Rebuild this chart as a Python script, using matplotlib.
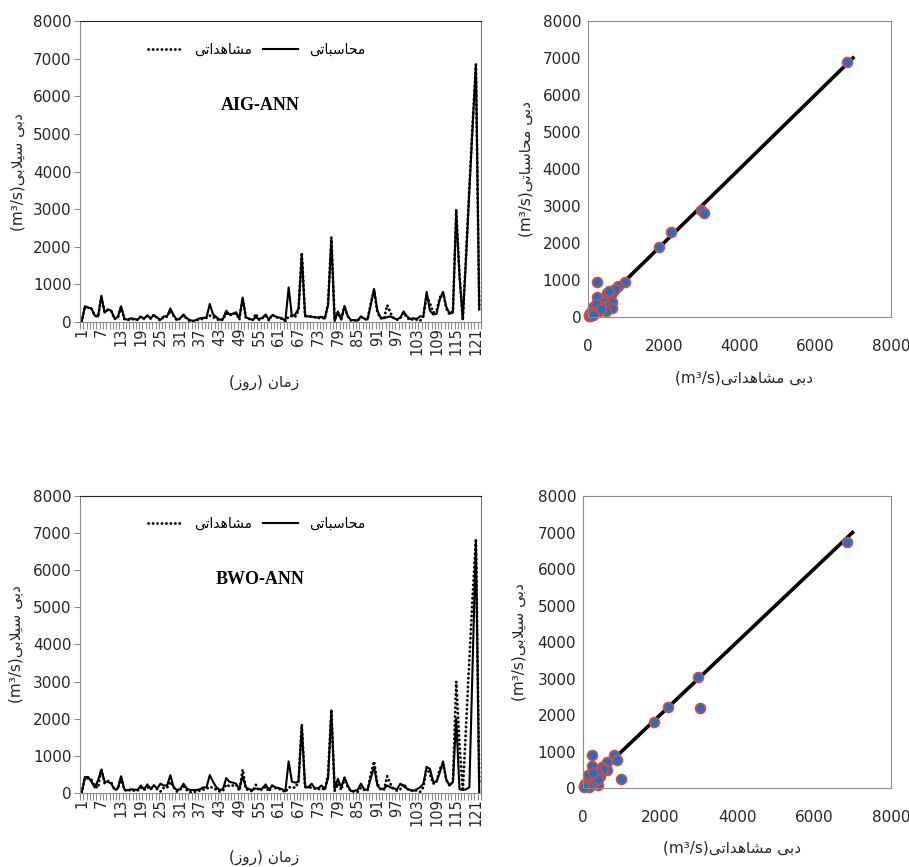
import numpy as np
import matplotlib
matplotlib.use('Agg')
import matplotlib.pyplot as plt

plt.rcParams['font.family'] = ['DejaVu Sans']

# روزها
days = np.arange(1, 123)

# دبی مشاهداتی (m3/s)
observed = [
    0, 400, 390, 350, 170, 140, 650, 260, 320, 290,
    80, 110, 400, 80, 50, 90, 60, 60, 150, 80,
    160, 90, 200, 100, 40, 140, 140, 300, 160, 40,
    90, 180, 80, 20, 20, 50, 60, 90, 110, 170,
    130, 90, 40, 60, 230, 180, 200, 230, 60, 630,
    100, 80, 40, 220, 60, 100, 170, 40, 200, 130,
    110, 80, 20, 150, 160, 140, 300, 1850, 180, 140,
    150, 120, 100, 130, 80, 500, 2250, 60, 250, 80,
    400, 150, 40, 40, 30, 140, 80, 60, 500, 850,
    250, 100, 80, 450, 240, 100, 60, 100, 250, 120,
    50, 80, 60, 30, 150, 700, 500, 250, 300, 650,
    780, 350, 200, 300, 3000, 1300, 50, 1800, 3600, 5300,
    6850, 300,
]

# دبی محاسباتی AIG-ANN
calc_aig = [
    0, 420, 380, 360, 170, 150, 700, 250, 340, 300,
    100, 130, 420, 90, 60, 100, 80, 60, 140, 90,
    180, 100, 180, 120, 60, 150, 150, 360, 180, 60,
    100, 200, 100, 50, 30, 60, 100, 110, 120, 480,
    200, 130, 60, 80, 300, 200, 220, 260, 100, 650,
    120, 90, 60, 120, 80, 110, 200, 60, 180, 150,
    120, 100, 30, 920, 150, 200, 350, 1800, 150, 150,
    140, 130, 120, 140, 90, 450, 2200, 20, 280, 60,
    430, 150, 50, 50, 40, 150, 90, 70, 450, 880,
    300, 120, 100, 130, 150, 100, 70, 120, 280, 150,
    80, 100, 80, 150, 150, 800, 300, 200, 220, 600,
    800, 400, 220, 250, 2900, 1200, 80, 1700, 3500, 5200,
    6850, 400,
]

# دبی محاسباتی BWO-ANN
calc_bwo = [
    0, 430, 430, 300, 150, 340, 620, 300, 300, 250,
    100, 120, 450, 100, 70, 100, 90, 80, 200, 100,
    230, 110, 200, 120, 250, 200, 200, 480, 150, 80,
    100, 250, 120, 80, 80, 80, 100, 150, 150, 480,
    300, 150, 80, 100, 400, 300, 280, 250, 100, 450,
    150, 100, 80, 120, 100, 120, 230, 80, 200, 150,
    130, 100, 50, 850, 300, 280, 300, 1800, 150, 150,
    250, 120, 130, 200, 100, 400, 2200, 100, 380, 150,
    420, 200, 50, 60, 80, 250, 100, 80, 400, 700,
    200, 100, 120, 200, 150, 120, 100, 250, 180, 120,
    80, 60, 100, 150, 250, 700, 650, 300, 300, 550,
    850, 350, 200, 300, 2000, 100, 80, 100, 150, 3500,
    6800, 0,
]

# نقاط پراکنش
obs_sc_aig = [6830, 2995, 3060, 2200, 1875, 985, 790, 240, 510, 640, 240, 400, 620, 510,
              640, 310, 470, 115, 700, 560, 300, 200, 150, 100, 60, 30, 80, 180, 250, 350,
              120, 40, 20, 90, 160, 220, 280, 330, 60, 130]
calc_sc_aig = [6880, 2900, 2810, 2290, 1885, 950, 840, 950, 650, 650, 540, 410, 410, 290,
               250, 180, 160, 90, 750, 700, 300, 250, 200, 150, 100, 50, 60, 120, 200, 300,
               260, 80, 30, 140, 100, 350, 150, 220, 30, 60]
obs_sc_bwo = [6845, 2990, 3050, 2210, 1845, 990, 800, 870, 240, 610, 610, 480, 390, 300,
              90, 220, 430, 520, 350, 150, 100, 60, 30, 180, 250, 120, 40, 80, 200, 300,
              160, 20, 400, 270]
calc_sc_bwo = [6745, 3035, 2185, 2230, 1820, 245, 900, 770, 900, 700, 500, 575, 90, 320,
               120, 590, 320, 530, 450, 250, 150, 100, 50, 180, 280, 350, 120, 60, 100, 200,
               40, 20, 250, 400]
line_xy = [0, 7000]

# شکل‌دهی حروف فارسی (بدون کتابخانه)
FORMS = {
    'ا': ('\uFE8D', '\uFE8E', None, None),
    'ب': ('\uFE8F', '\uFE90', '\uFE91', '\uFE92'),
    'ت': ('\uFE95', '\uFE96', '\uFE97', '\uFE98'),
    'ح': ('\uFEA1', '\uFEA2', '\uFEA3', '\uFEA4'),
    'د': ('\uFEA9', '\uFEAA', None, None),
    'ر': ('\uFEAD', '\uFEAE', None, None),
    'ز': ('\uFEAF', '\uFEB0', None, None),
    'س': ('\uFEB1', '\uFEB2', '\uFEB3', '\uFEB4'),
    'ش': ('\uFEB5', '\uFEB6', '\uFEB7', '\uFEB8'),
    'ل': ('\uFEDD', '\uFEDE', '\uFEDF', '\uFEE0'),
    'م': ('\uFEE1', '\uFEE2', '\uFEE3', '\uFEE4'),
    'ن': ('\uFEE5', '\uFEE6', '\uFEE7', '\uFEE8'),
    'ه': ('\uFEE9', '\uFEEA', '\uFEEB', '\uFEEC'),
    'و': ('\uFEED', '\uFEEE', None, None),
    'ی': ('\uFEEF', '\uFEF0', '\uFEF3', '\uFEF4'),
    'لا': ('\uFEFB', '\uFEFC', None, None),
}


def shape_word(word):
    toks = []
    i = 0
    while i < len(word):
        if word[i] == 'ل' and i + 1 < len(word) and word[i + 1] == 'ا':
            toks.append('لا')
            i += 2
        else:
            toks.append(word[i])
            i += 1
    out = []
    for k, t in enumerate(toks):
        f = FORMS[t]
        prev = k > 0 and FORMS[toks[k - 1]][2] is not None
        nxt = k < len(toks) - 1 and f[2] is not None
        if prev and nxt:
            out.append(f[3])
        elif nxt:
            out.append(f[2])
        elif prev:
            out.append(f[1])
        else:
            out.append(f[0])
    return ''.join(out[::-1])


def rtl(text):
    return ' '.join(shape_word(w) for w in text.split()[::-1])


obs_lbl = rtl('مشاهداتی')
calc_lbl = rtl('محاسباتی')
unit = '(m³/s)'
ylab_ts = unit + rtl('دبی سیلابی')
xlab_ts = '(' + rtl('روز') + ') ' + rtl('زمان')
ylab_sc1 = unit + rtl('دبی محاسباتی')
ylab_sc2 = unit + rtl('دبی سیلابی')
xlab_sc = unit + rtl('دبی مشاهداتی')

TXT = '#262626'
GRID = '#8c8c8c'

fig = plt.figure(figsize=(9.09, 8.67), dpi=100)


def time_panel(rect, calc, title):
    ax = fig.add_axes(rect)
    h_calc, = ax.plot(days, calc, color='black', lw=1.5)
    h_obs, = ax.plot(days, observed, color='black', lw=2.0,
                     linestyle=(0, (0.1, 1.5)), dash_capstyle='round')
    ax.set_xlim(0.5, len(days) + 0.5)
    ax.set_ylim(0, 8000)
    ax.set_yticks(np.arange(0, 8001, 1000))
    ax.set_xticks(days[::6])
    ax.set_xticklabels([str(d) for d in days[::6]], rotation=90)
    ax.set_xticks(np.arange(0.5, len(days) + 1), minor=True)
    ax.tick_params(axis='x', which='major', length=0, pad=4, labelsize=10.5, colors=TXT)
    ax.tick_params(axis='x', which='minor', length=5, color=GRID, width=0.8)
    ax.tick_params(axis='y', length=4, color=GRID, labelsize=11, colors=TXT, pad=2)
    for s in ['left', 'bottom']:
        ax.spines[s].set_color(GRID)
    ax.spines['top'].set_color('#222222')
    ax.spines['right'].set_color('#777777')
    ax.legend(handles=[h_obs, h_calc], labels=[obs_lbl, calc_lbl], ncol=2,
              loc='center', bbox_to_anchor=(0.44, 0.905), frameon=False,
              fontsize=10, handlelength=2.5, columnspacing=0.8, handletextpad=0.8)
    ax.text(0.449, 0.72, title, transform=ax.transAxes, ha='center', va='center',
            family='Liberation Serif', fontweight='bold', fontsize=13)
    ax.set_ylabel(ylab_ts, fontsize=11, color=TXT)
    ax.yaxis.set_label_coords(-0.135, 0.5)
    ax.set_xlabel(xlab_ts, fontsize=11, color=TXT)
    return ax


def scatter_panel(rect, xs, ys, ylab, xlab_y, xlab_x):
    ax = fig.add_axes(rect)
    ax.plot(line_xy, line_xy, color='black', lw=2.6, zorder=1)
    ax.scatter(xs, ys, s=48, facecolor='#1f6fc4', edgecolor='#c0504d',
               linewidth=1.4, zorder=2, clip_on=False)
    ax.set_xlim(0, 8000)
    ax.set_ylim(0, 8000)
    ax.set_xticks(np.arange(0, 8001, 2000))
    ax.set_yticks(np.arange(0, 8001, 1000))
    ax.tick_params(axis='x', length=0, pad=16, labelsize=11, colors=TXT)
    ax.tick_params(axis='y', length=0, pad=5, labelsize=11, colors=TXT)
    for s in ax.spines.values():
        s.set_color(GRID)
    ax.set_ylabel(ylab, fontsize=11, color=TXT)
    ax.yaxis.set_label_coords(-0.18, 0.5)
    ax.set_xlabel(xlab_sc, fontsize=11, color=TXT)
    ax.xaxis.set_label_coords(xlab_x, xlab_y)
    return ax


a1 = time_panel([0.088, 0.6286, 0.441, 0.347], calc_aig, 'AIG-ANN')
a1.xaxis.set_label_coords(0.459, -0.175)
a2 = scatter_panel([0.647, 0.6344, 0.333, 0.3414], obs_sc_aig, calc_sc_aig,
                   ylab_sc1, -0.18, 0.515)
a3 = time_panel([0.088, 0.0854, 0.441, 0.3425], calc_bwo, 'BWO-ANN')
a3.xaxis.set_label_coords(0.459, -0.19)
a3.yaxis.set_label_coords(-0.14, 0.5)
a4 = scatter_panel([0.6414, 0.0911, 0.3388, 0.3368], obs_sc_bwo, calc_sc_bwo,
                   ylab_sc2, -0.18, 0.483)
a4.yaxis.set_label_coords(-0.185, 0.5)

fig.savefig('out.png', dpi=100)
